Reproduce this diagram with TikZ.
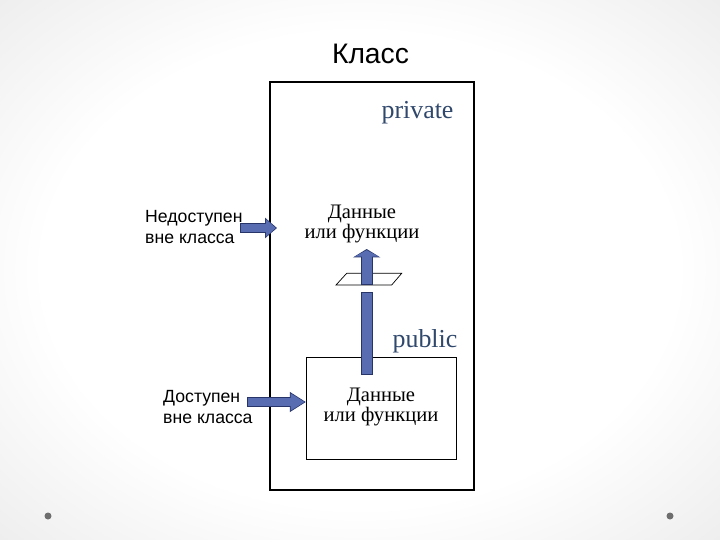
\documentclass[tikz,border=0pt]{standalone}
\usepackage{fontspec}
\setmainfont{Liberation Serif}
\setsansfont{Liberation Sans}
\usetikzlibrary{arrows.meta,fit}

\definecolor{arrowfill}{RGB}{88,108,178}
\definecolor{arrowedge}{RGB}{38,52,105}
\definecolor{scopeblue}{RGB}{48,72,108}
\definecolor{dotgray}{RGB}{110,110,110}

\pgfdeclareradialshading{vignette}{\pgfpoint{0bp}{0bp}}{%
  color(0bp)=(white); color(22bp)=(white); color(42bp)=(black!10); color(50bp)=(black!16)}

\tikzset{
  frame/.style={draw,line width=1pt,inner sep=0pt},
  sidelabel/.style={font=\sffamily\fontsize{15}{18.5}\selectfont,align=left,inner sep=0pt,anchor=west},
  member/.style={font=\fontsize{17.5}{16.5}\selectfont,align=center,inner sep=0pt},
  access/.style={font=\fontsize{22}{24}\selectfont,text=scopeblue,anchor=base,inner sep=0pt},
  plane/.style={draw,line width=0.6pt,fill=white},
  shaft/.style={draw=arrowfill,line width=#1,shorten <=0.7pt,shorten >=0.7pt,
    preaction={draw=arrowedge,line width=#1+1.4pt,shorten <=0pt,shorten >=0pt}},
  blockarrow/.style n args={3}{draw=arrowfill,line width=#1,shorten <=0.7pt,shorten >=1pt,
    -{Triangle[length=#2,width=#3]},
    preaction={draw=arrowedge,line width=#1+1.4pt,shorten <=0pt,shorten >=0pt,
      -{Triangle[length=#2+1.7pt,width=#3+2.4pt]}}}
}

\begin{document}
\begin{tikzpicture}[x=0.85pt,y=-0.85pt]
	\shade[shading=vignette] (0,0) rectangle (720,540);

	\node[font=\sffamily\fontsize{24}{26}\selectfont,anchor=base,inner sep=0pt] (title) at (370.5,63.3) {Класс};
	\node[frame,fit={(270,82) (474,490)}] (cls) {};
	\node[access] (priv) at (417.5,118.3) {private};
	\node[member] (privdata) at (362,224) {Данные\\или функции};
	\node[sidelabel] (nedo) at (145,227) {Недоступен\\вне класса};
	\node[access] (pub) at (425,347) {public};
	\node[frame,fit={(306.5,357.5) (456.5,459.5)}] (pubbox) {};
	\node[member] (pubdata) at (381,407) {Данные\\или функции};
	\node[sidelabel] (dost) at (163,407) {Доступен\\вне класса};

	\coordinate (nedo tail) at (240,228);
	\coordinate (dost tail) at (247,402);
	\coordinate (up tail) at (366.7,375);
	\coordinate (up gap) at (366.7,292);
	\coordinate (up start) at (366.7,285);
	\coordinate (up tip) at (366.7,249);

	\draw[blockarrow={7.6pt}{8.5pt}{14.5pt}] (nedo tail) -- ++(37,0);
	\draw[blockarrow={7.1pt}{12pt}{13.8pt}] (dost tail) -- (dost tail -| pubbox.west);
	\draw[shaft=8.8pt] (up tail) -- (up gap);
	\draw[plane] (346.7,273.3) -- (401.7,273.3) -- (391.7,285) -- (336,285) -- cycle;
	\draw[blockarrow={8.8pt}{5.5pt}{20.6pt}] (up start) -- (up tip);

	\fill[dotgray] (48,516) circle (3.5);
	\fill[dotgray] (670,516) circle (3.5);
\end{tikzpicture}
\end{document}
